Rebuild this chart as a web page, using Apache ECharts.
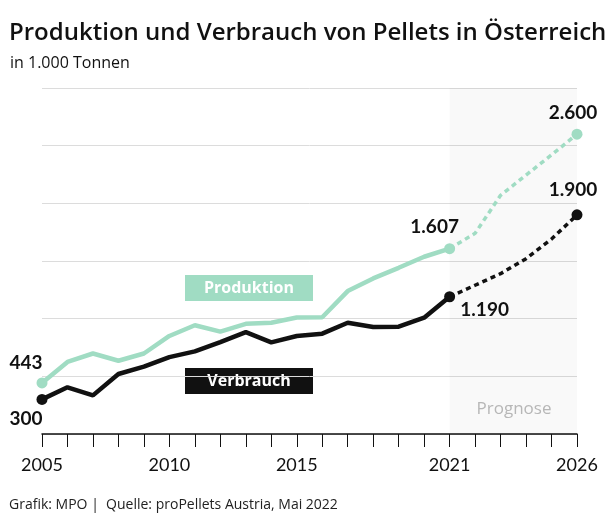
<!DOCTYPE html>
<html><head><meta charset="utf-8">
<script src="https://cdn.jsdelivr.net/npm/echarts@6/dist/echarts.min.js"></script>
<style>html,body{margin:0;padding:0;background:#fff}#c{width:616px;height:526px}</style>
</head><body><div id="c"></div>
<script>
const years = ['2005','2006','2007','2008','2009','2010','2011','2012','2013','2014','2015','2016','2017','2018','2019','2020','2021','2022','2023','2024','2025','2026'];
const labelYears = ['2005','2010','2015','2021','2026'];
const produktion = [443,625,698,635,698,850,943,888,955,965,1010,1012,1239,1349,1441,1537,1607];
const produktionPrognose = [1607,1740,2070,2245,2420,2600];
const verbrauch = [300,405,335,520,584,667,716,796,883,795,850,870,965,927,930,1008,1190];
const verbrauchPrognose = [1190,1290,1390,1520,1690,1900];
const yMin = 0, yMax = 3000, yStep = 500;

const GREEN = '#a0dcc3';
const DARK = '#111111';
const FONT = 'Lato, "Open Sans", sans-serif';
const FONT2 = '"Open Sans", Lato, sans-serif';

function fmt(v){ return String(v).replace(/\B(?=(\d{3})+(?!\d))/g, '.'); }
function endLabel(offset){
  return {show:true, position:'inside', offset:offset, formatter:(p)=>fmt(p.value),
    color:DARK, fontSize:19, fontWeight:'bold', fontFamily:FONT};
}
function buildActual(vals, firstOff, lastOff){
  return vals.map((v,i)=>{
    if(i===0) return {value:v, symbolSize:11, label:endLabel(firstOff)};
    if(i===vals.length-1) return {value:v, symbolSize:11, label:endLabel(lastOff)};
    return v;
  });
}
function buildForecast(vals, lastOff){
  const start = years.length - vals.length;
  const out = years.map(()=>null);
  vals.forEach((v,i)=>{
    out[start+i] = (i===vals.length-1) ? {value:v, symbolSize:11, label:endLabel(lastOff)} : v;
  });
  return out;
}

const chart = echarts.init(document.getElementById('c'), null, {renderer:'canvas'});
chart.setOption({
  animation:false,
  backgroundColor:'#ffffff',
  title:[
    {text:'Produktion und Verbrauch von Pellets in Österreich', left:9, top:21, padding:0,
     textStyle:{fontFamily:FONT2, fontSize:24, fontWeight:600, color:'#111'}},
    {text:'in 1.000 Tonnen', left:10, top:55, padding:0,
     textStyle:{fontFamily:FONT2, fontSize:16, fontWeight:'normal', color:'#111'}}
  ],
  grid:{left:42, right:39, top:88, bottom:92, containLabel:false},
  xAxis:{type:'category', data:years, boundaryGap:false,
    axisLine:{lineStyle:{color:'#111', width:1.5}},
    axisTick:{show:true, interval:0, length:13, lineStyle:{color:'#111', width:1}},
    axisLabel:{interval:(i,v)=>labelYears.includes(v), margin:22, fontSize:18, color:'#111', fontFamily:FONT},
    splitLine:{show:false}
  },
  yAxis:{type:'value', min:yMin, max:yMax, interval:yStep,
    axisLine:{show:false}, axisTick:{show:false}, axisLabel:{show:false},
    splitLine:{lineStyle:{color:'#dcdcdc', width:1}}
  },
  series:[
    {name:'Produktion', type:'line', data:buildActual(produktion,[-16,-20],[-15,-22]),
     symbol:'circle', symbolSize:0, showAllSymbol:true, itemStyle:{color:GREEN},
     lineStyle:{color:GREEN, width:4.5}, z:3,
     markArea:{silent:true, itemStyle:{color:'rgba(0,0,0,0.022)'}, data:[[{xAxis:'2021'},{xAxis:'2026'}]]}},
    {name:'Produktion Prognose', type:'line', data:buildForecast(produktionPrognose,[-4,-21]),
     symbol:'circle', symbolSize:0, showAllSymbol:true, itemStyle:{color:GREEN},
     lineStyle:{color:GREEN, width:3.5, type:[5,4]}, z:3},
    {name:'Verbrauch', type:'line', data:buildActual(verbrauch,[-16,19],[35,13]),
     symbol:'circle', symbolSize:0, showAllSymbol:true, itemStyle:{color:DARK},
     lineStyle:{color:DARK, width:4.5}, z:4},
    {name:'Verbrauch Prognose', type:'line', data:buildForecast(verbrauchPrognose,[-4,-25]),
     symbol:'circle', symbolSize:0, showAllSymbol:true, itemStyle:{color:DARK},
     lineStyle:{color:DARK, width:3.5, type:[5,4]}, z:4}
  ],
  graphic:[
    {type:'group', left:185, top:275, children:[
      {type:'rect', shape:{x:0,y:0,width:128,height:26}, style:{fill:GREEN}},
      {type:'text', x:64, y:13, style:{text:'Produktion', fill:'#fff', font:'bold 16px '+FONT2, textAlign:'center', textVerticalAlign:'middle'}}
    ]},
    {type:'group', left:185, top:368, children:[
      {type:'rect', shape:{x:0,y:0,width:128,height:26}, style:{fill:DARK}},
      {type:'text', x:64, y:13, style:{text:'Verbrauch', fill:'#fff', font:'bold 16px '+FONT2, textAlign:'center', textVerticalAlign:'middle'}}
    ]},
    {type:'text', x:514, y:409, style:{text:'Prognose', fill:'#bcbcbc', font:'17px '+FONT2, textAlign:'center', textVerticalAlign:'middle'}},
    {type:'text', left:9, top:498, style:{text:'Grafik: MPO |  Quelle: proPellets Austria, Mai 2022', fill:'#222', font:'14px '+FONT2}}
  ]
});
</script></body></html>
